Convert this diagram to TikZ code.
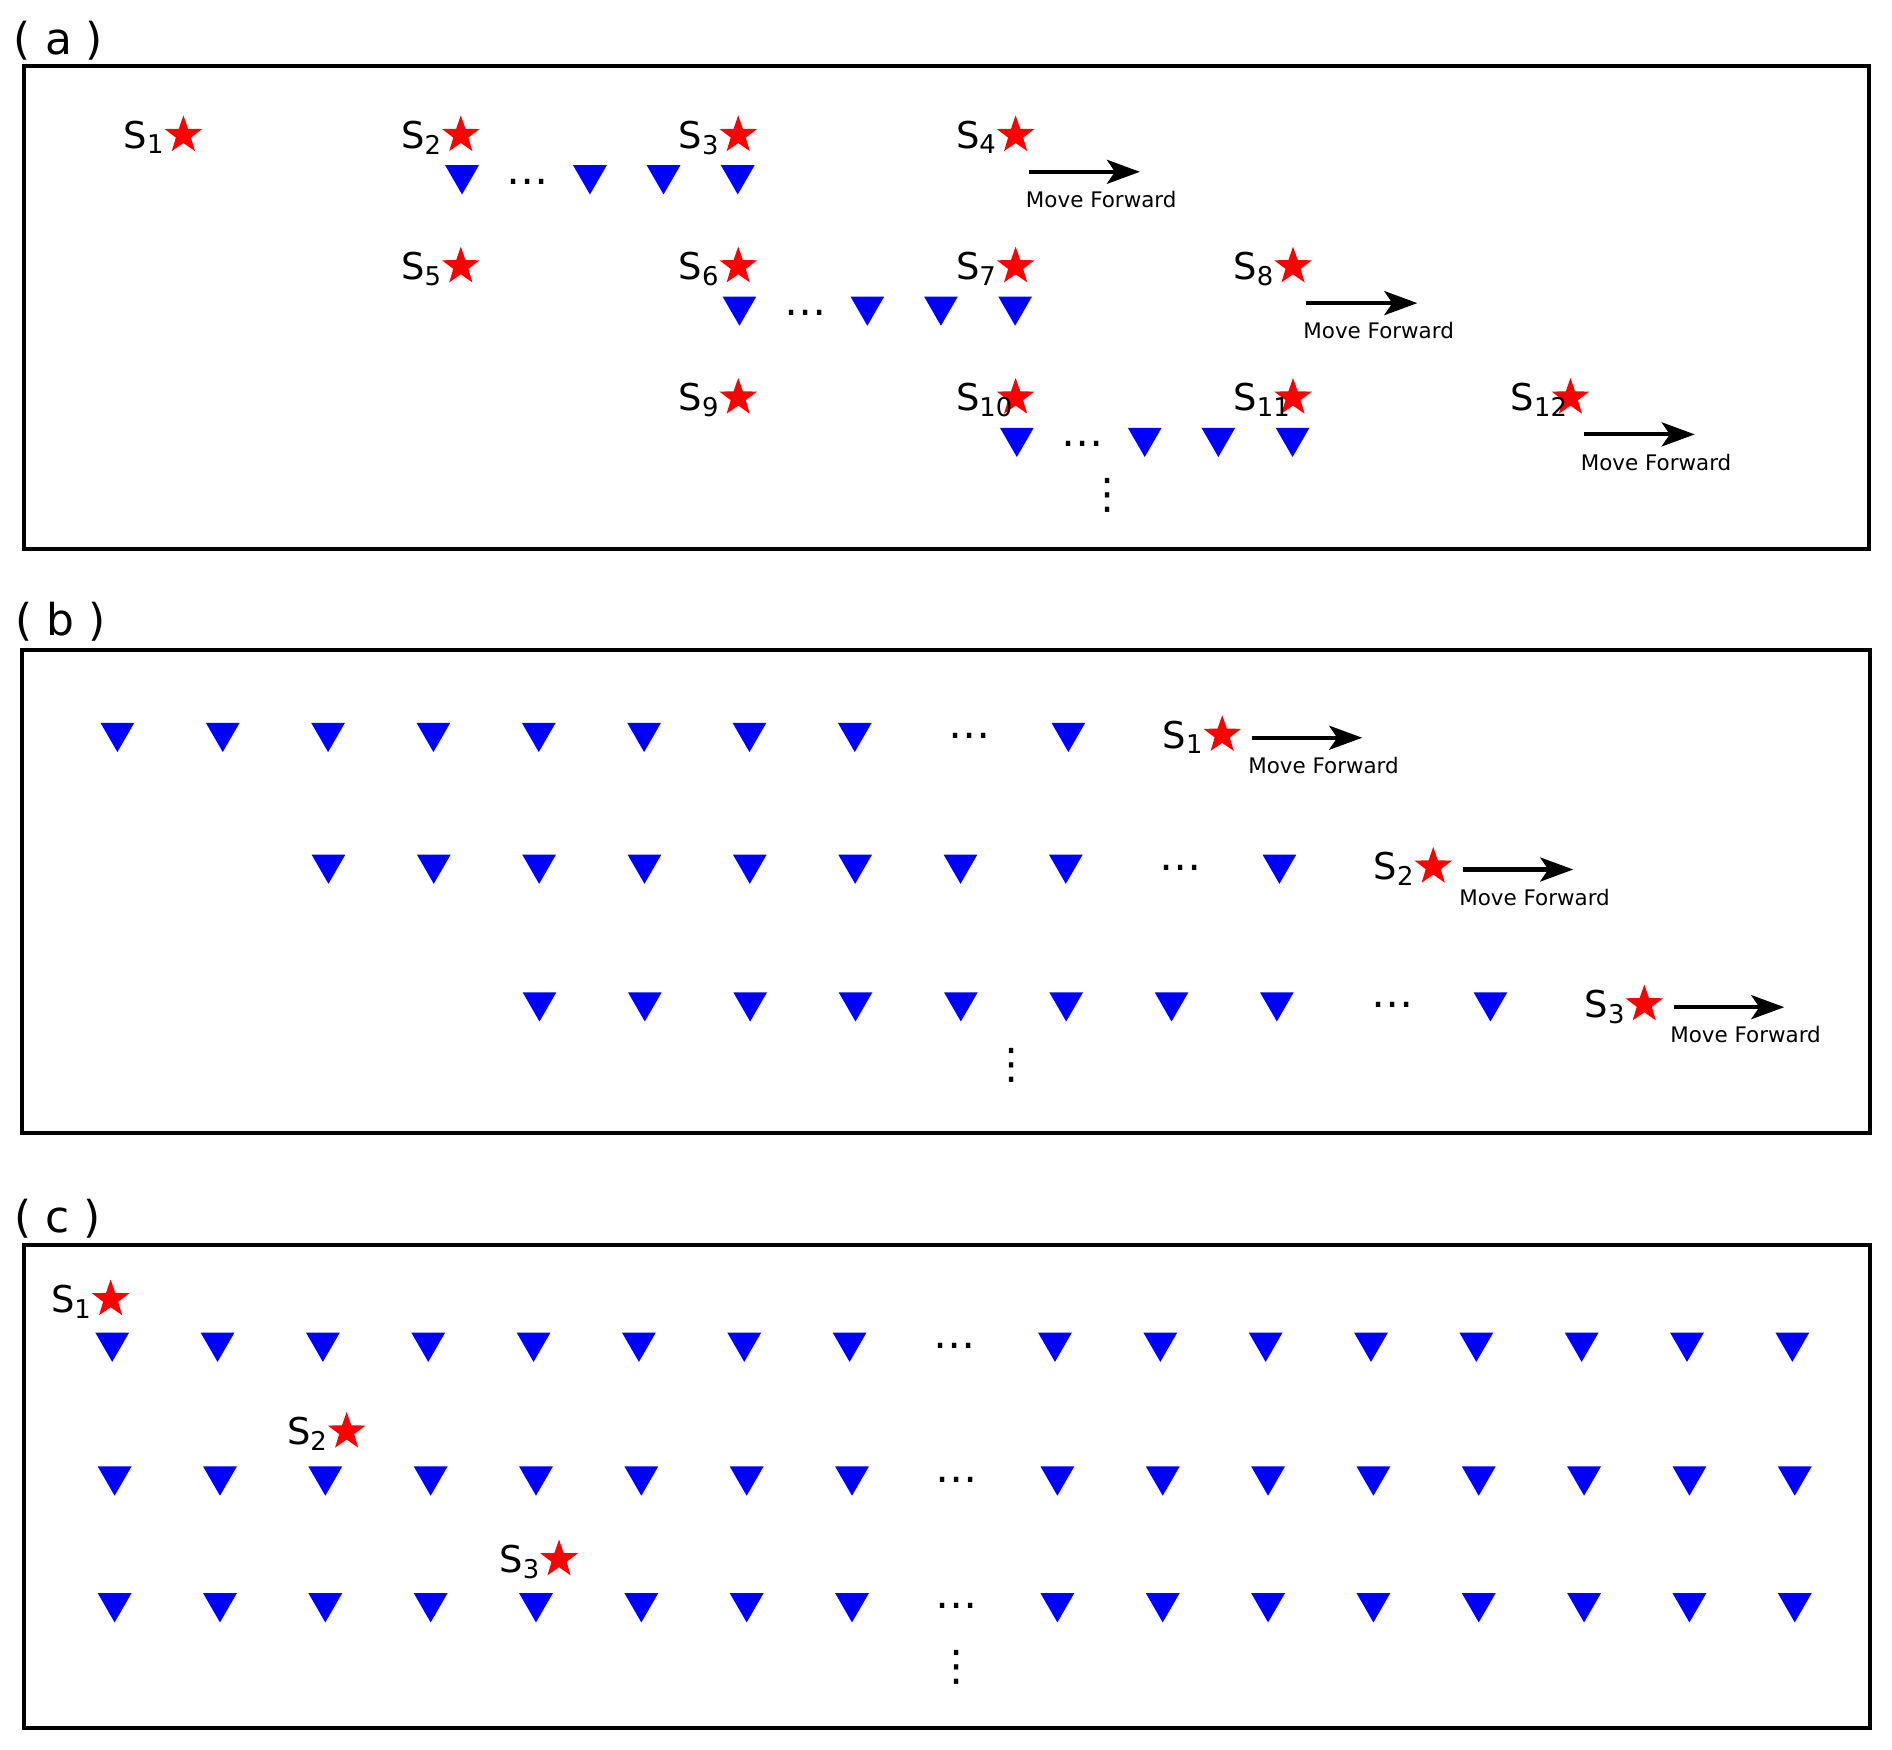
\documentclass[tikz,border=0pt]{standalone}
\usepackage{fontspec}
\setmainfont{DejaVu Sans}
\usetikzlibrary{shapes.geometric,arrows.meta,positioning}

\tikzset{
	redstar/.style={star,star points=5,star point ratio=2.5,fill=red,inner sep=0pt,minimum size=3.95mm},
	bluetri/.style={regular polygon,regular polygon sides=3,shape border rotate=180,fill=blue,inner sep=0pt,minimum size=3.9mm},
	slabel/.style={anchor=base west,inner sep=0pt,font=\fontsize{10.5}{12}\selectfont},
	mvtext/.style={anchor=base west,inner sep=0pt,font=\fontsize{6.1}{7}\selectfont},
	mvarrow/.style={line width=1.15pt,-{Stealth[length=3.3mm,width=2.4mm,inset=0.8mm]}},
	hdots/.style={inner sep=0pt,font=\fontsize{12}{14}\selectfont},
	panel/.style={inner sep=0pt,font=\fontsize{12.5}{15}\selectfont},
	frame/.style={line width=1.2pt}
}

\begin{document}
\begin{tikzpicture}[x={(0.012066cm,0)},y={(0,-0.012066cm)}]
	\useasboundingbox (0,0) rectangle (1568,1450);
	\draw[frame] (19.8,54.4) rectangle (1549,455);
	\draw[frame] (18,539) rectangle (1550,938.7);
	\draw[frame] (20,1032) rectangle (1550,1432);
	\node[panel] (pa) at (48.5,33.6) {( a )};
	\node[panel] (pb) at (50,515) {( b )};
	\node[panel] (pc) at (48,1010) {( c )};

	\foreach \r in {0,1,2}{
		\foreach \c[evaluate=\c as \n using int(4*\r+\c+1)] in {0,...,3}{
			\node[redstar] (a\n) at ({152+229.9*(\r+\c)},{112+108.8*\r}) {};
			\node[slabel] (la\n) at ([shift={(-50,10.8)}]a\n.center) {S\textsubscript{\n}};
		}
		\foreach \d[count=\k] in {1,107,168,229.5}{
			\node[bluetri] (ta\r\k) at ({152+229.9*(\r+1)+\d},{145+108.8*\r}) {};
		}
		\node[hdots] (da\r) at ({152+229.9*(\r+1)+55.6},{150.4+108.8*\r}) {…};
		\pgfmathtruncatemacro\m{4*\r+4}
		\coordinate (sa\m) at ([shift={(11,30.4)}]a\m.center);
		\coordinate (ea\m) at ([shift={(103,30.4)}]a\m.center);
		\draw[mvarrow] (sa\m) -- (ea\m);
		\node[mvtext] (ma\m) at ([shift={(8,60)}]a\m.center) {Move Forward};
	}
	\node[hdots] (va) at (917.7,410.8) {⋮};

	\foreach \r/\y[count=\n] in {0/609.1,1/718.3,2/832.4}{
		\pgfmathsetmacro\xo{97.3+174.9*\r}
		\foreach \k in {0,...,7}{
			\node[bluetri] (tb\r\k) at ({\xo+87.3*\k},{\y-2}) {};
		}
		\node[hdots] (db\r) at ({\xo+706.6},{\y+0.7}) {…};
		\node[bluetri] (tb\r8) at ({\xo+788.1},{\y-2}) {};
		\node[redstar] (b\n) at ({\xo+915.6},\y) {};
		\node[slabel] (lb\n) at ([shift={(-50,10.8)}]b\n.center) {S\textsubscript{\n}};
		\coordinate (sb\n) at ([shift={(25,2.3)}]b\n.center);
		\coordinate (eb\n) at ([shift={(116,2.3)}]b\n.center);
		\draw[mvarrow] (sb\n) -- (eb\n);
		\node[mvtext] (mb\n) at ([shift={(21,31.8)}]b\n.center) {Move Forward};
	}
	\node[hdots] (vb) at (838,883) {⋮};

	\foreach \y/\xo/\sx/\sy[count=\n] in {1112.5/93/91.7/1076.8,1223.4/95/287.3/1186.5,1328.4/95/463.3/1292.3}{
		\foreach \k in {0,...,7}{
			\node[bluetri] (tc\n\k) at ({\xo+87.3*\k},\y) {};
			\node[bluetri] (tcr\n\k) at ({\xo+781.3+87.3*\k},\y) {};
		}
		\node[hdots] (dc\n) at ({\xo+697.7},{\y+2.7}) {…};
		\node[redstar] (c\n) at (\sx,\sy) {};
		\node[slabel] (lc\n) at ([shift={(-50,10.8)}]c\n.center) {S\textsubscript{\n}};
	}
	\node[hdots] (vc) at (792.9,1382.1) {⋮};
\end{tikzpicture}
\end{document}
